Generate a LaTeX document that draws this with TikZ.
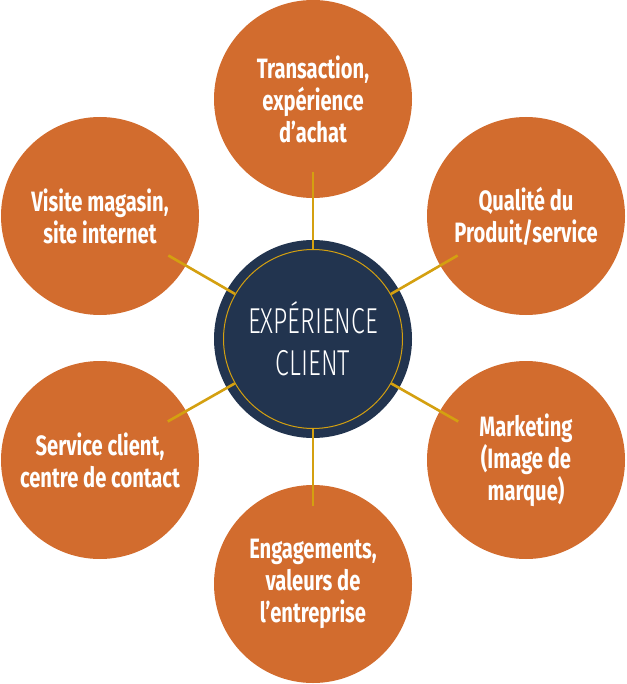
\documentclass[tikz,border=0pt]{standalone}
\usepackage{fontspec}
\usetikzlibrary{calc}
\newfontfamily\orangefont{Fira Sans}[FakeStretch=0.72]
\newfontfamily\centerfont{Fira Sans Light}[FakeStretch=0.69]
\definecolor{orangeC}{HTML}{D26C2E}
\definecolor{navyC}{HTML}{22344F}
\definecolor{goldC}{HTML}{D4A010}
\tikzset{
  topic/.style={circle, fill=orangeC, minimum size=198pt, inner sep=0pt, text=white,
    align=center, font=\orangefont\bfseries\fontsize{28}{32}\selectfont},
  hub/.style={circle, fill=navyC, minimum size=198pt, inner sep=0pt},
  ringC/.style={circle, draw=goldC, line width=1pt, minimum size=179pt, inner sep=0pt,
    text=white, align=center, font=\centerfont\fontsize{36}{42}\selectfont},
  conn/.style={draw=goldC, line width=2.6pt}
}
\begin{document}
\begin{tikzpicture}[x=1pt,y=-1pt]
\useasboundingbox (0,0) rectangle (626,684);
\node[topic] (t)  at (313,99)  {Transaction,\\expérience\\d’achat};
\node[topic] (tl) at (100,216) {Visite magasin,\\site internet};
\node[topic] (tr) at (526,216) {Qualité du\\Produit/service};
\node[topic] (bl) at (100,460) {Service client,\\centre de contact};
\node[topic] (br) at (526,460) {Marketing\\(Image de\\marque)};
\node[topic] (b)  at (313,584) {Engagements,\\valeurs de\\l’entreprise};
\node[hub] (hub) at (313,339) {};
\node[ringC] (ring) at (313,339) {EXPÉRIENCE\\CLIENT};
\foreach \n in {t,tl,tr,bl,br,b}{
  \draw[conn] (ring) -- ($(ring.center)!167pt!(\n.center)$);
}
\end{tikzpicture}
\end{document}
